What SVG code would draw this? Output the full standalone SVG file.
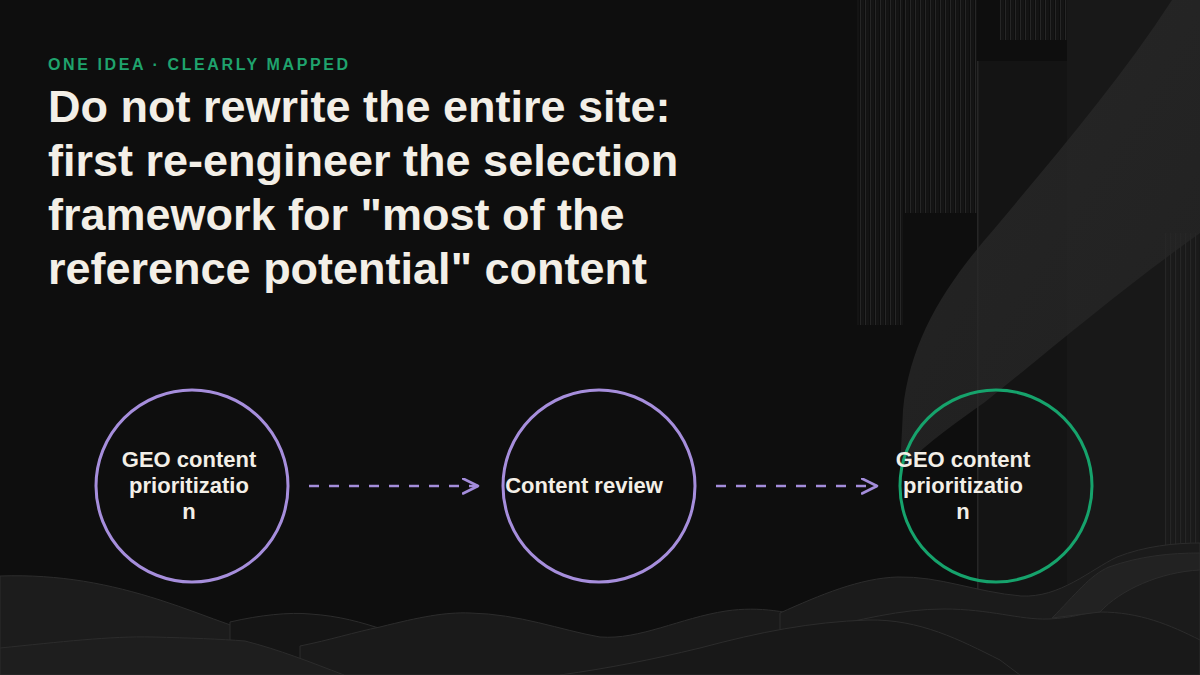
<svg xmlns="http://www.w3.org/2000/svg" width="1200" height="675" viewBox="0 0 1200 675">
  <defs>
    <pattern id="stripes" width="5" height="10" patternUnits="userSpaceOnUse">
      <rect x="0" y="0" width="1.2" height="10" fill="#262626"/>
      <rect x="2.6" y="0" width="0.8" height="10" fill="#1c1c1c"/>
    </pattern>
    <linearGradient id="bandGrad" x1="0" y1="0" x2="1" y2="1">
      <stop offset="0" stop-color="#2c2c2c"/>
      <stop offset="1" stop-color="#242424"/>
    </linearGradient>
    <marker id="chev" markerWidth="20" markerHeight="20" refX="16" refY="8" orient="auto" markerUnits="userSpaceOnUse">
      <path d="M1,0.5 L16,8 L1,15.5" fill="none" stroke="#a48ddb" stroke-width="2.6" stroke-linecap="round" stroke-linejoin="round"/>
    </marker>
  </defs>
  <style>
    .sub { font-family: "Liberation Sans", Arial, sans-serif; font-weight: 700; font-size: 16px; letter-spacing: 2.6px; fill: #1fa36d; }
    .title { font-family: "Liberation Sans", Arial, sans-serif; font-weight: 700; font-size: 45px; fill: #f3efe7; }
    .lbl { font-family: "Liberation Sans", Arial, sans-serif; font-weight: 700; font-size: 22px; fill: #f3efe7; text-anchor: middle; }
    .ring { fill: none; stroke-width: 3; }
    .purple { stroke: #a68edc; }
    .green { stroke: #16a36c; }
    .conn { fill: none; stroke: #a48ddb; stroke-width: 2.6; stroke-dasharray: 10 10; }
    .wave { stroke: #2c2c2c; stroke-width: 1; }
  </style>

  <!-- background -->
  <rect x="0" y="0" width="1200" height="675" fill="#0e0e0e"/>

  <!-- right-side decoration -->
  <g id="decor-right">
    <rect x="1067" y="0" width="133" height="675" fill="#181818"/>
    <rect x="857" y="0" width="46" height="325" fill="url(#stripes)"/>
    <rect x="905" y="0" width="72" height="213" fill="url(#stripes)"/>
    <rect x="1000" y="0" width="67" height="40" fill="url(#stripes)"/>
    <rect x="978" y="61" width="89" height="540" fill="#141414"/>
    <rect x="977" y="61" width="1.5" height="540" fill="#262626"/>
    <rect x="1165" y="233" width="35" height="330" fill="url(#stripes)"/>
    <path d="M1172,0 C1120,80 1060,150 995,228 C945,285 910,340 903,410 L900,470 C930,440 960,420 985,402 C1050,350 1120,290 1200,233 L1200,0 Z" fill="url(#bandGrad)" opacity="0.75"/>
  </g>

  <!-- bottom waves -->
  <g id="decor-waves">
    <path class="wave" d="M0,576 C60,574 110,584 160,600 C210,616 250,636 306,645 C340,650 360,652 380,660 L380,675 L0,675 Z" fill="#1c1c1c"/>
    <path class="wave" d="M230,622 C260,615 290,612 310,614 C340,616 360,622 385,630 L385,660 L230,660 Z" fill="#151515"/>
    <path class="wave" d="M300,646 C330,640 355,632 380,627 C420,617 445,612 470,613 C520,614 560,630 600,637 C640,640 680,618 726,611 C760,606 790,612 815,620 L815,675 L300,675 Z" fill="#1a1a1a"/>
    <path class="wave" d="M780,613 C820,595 860,578 898,577 C940,576 975,592 1021,596 C1060,598 1090,570 1117,557 C1145,546 1175,543 1200,543 L1200,675 L780,675 Z" fill="#1b1b1b"/>
    <path class="wave" d="M814,630 C860,620 900,609 944,609 C990,609 1020,620 1048,619 C1075,618 1085,612 1100,612 C1140,612 1170,625 1200,640 L1200,675 L814,675 Z" fill="#191919"/>
    <path class="wave" d="M1052,618 C1075,595 1090,575 1109,567 C1140,556 1170,553 1200,553 L1200,570 C1160,572 1120,590 1100,612 Z" fill="#222222"/>
    <path class="wave" d="M0,648 C60,642 110,636 153,637 C190,638 220,639 245,641 C280,650 310,662 344,675 L0,675 Z" fill="#1e1e1e"/>
    <path class="wave" d="M560,675 C610,668 650,660 700,648 C760,632 810,622 868,620 C920,619 960,640 1000,660 L1020,675 Z" fill="#181818"/>
  </g>

  <!-- header text -->
  <text class="sub" x="48" y="70">ONE IDEA · CLEARLY MAPPED</text>
  <text class="title" x="48" y="122">Do not rewrite the entire site:</text>
  <text class="title" x="48" y="176">first re-engineer the selection</text>
  <text class="title" x="48" y="230">framework for "most of the</text>
  <text class="title" x="48" y="284">reference potential" content</text>

  <!-- connectors -->
  <g id="connectors">
    <path class="conn" d="M309,486 L478,486" marker-end="url(#chev)"/>
    <path class="conn" d="M716,486 L877,486" marker-end="url(#chev)"/>
  </g>

  <!-- nodes -->
  <g id="node-1">
    <circle class="ring purple" cx="192" cy="486" r="96"/>
    <text class="lbl" x="189" y="467">GEO content</text>
    <text class="lbl" x="189" y="493">prioritizatio</text>
    <text class="lbl" x="189" y="519">n</text>
  </g>
  <g id="node-2">
    <circle class="ring purple" cx="599" cy="486" r="96"/>
    <text class="lbl" x="584" y="493">Content review</text>
  </g>
  <g id="node-3">
    <circle class="ring green" cx="996" cy="486" r="96"/>
    <text class="lbl" x="963" y="467">GEO content</text>
    <text class="lbl" x="963" y="493">prioritizatio</text>
    <text class="lbl" x="963" y="519">n</text>
  </g>
</svg>
